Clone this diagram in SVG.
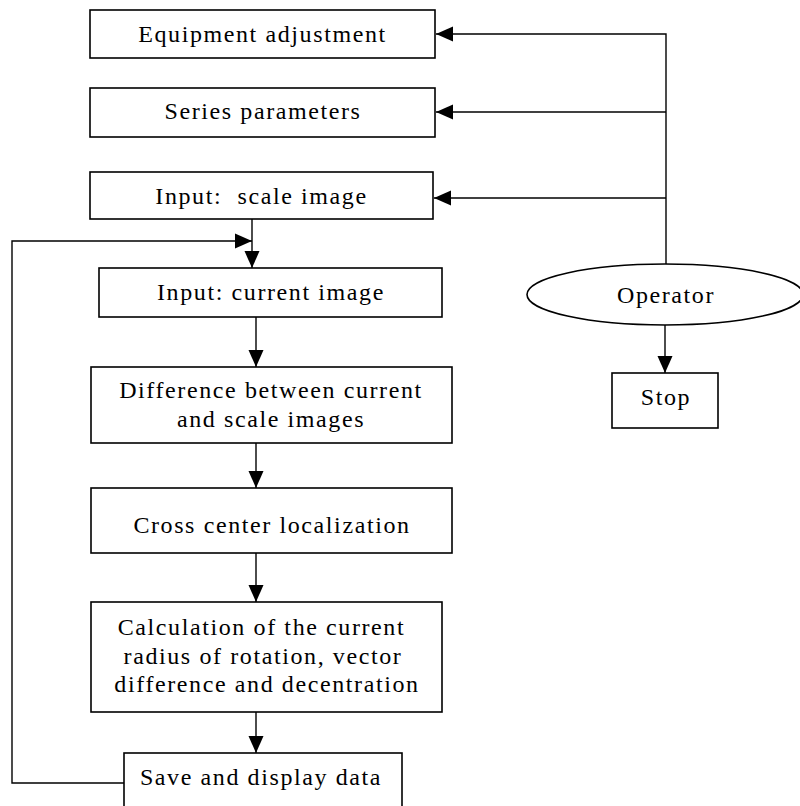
<svg xmlns="http://www.w3.org/2000/svg" width="800" height="806" viewBox="0 0 800 806">
<style>
.box{fill:#fff;stroke:#000;stroke-width:1.6}
.ln{fill:none;stroke:#000;stroke-width:1.4}
.t{font-family:'Liberation Serif','DejaVu Serif',serif;font-size:24px;letter-spacing:1.6px;text-anchor:middle;fill:#000}
</style>
<defs>
<marker id="ah" markerUnits="userSpaceOnUse" markerWidth="17" markerHeight="16" refX="17" refY="7.5" orient="auto" viewBox="0 0 17 15">
<path d="M0,0 L17,7.5 L0,15 z" fill="#000"/>
</marker>
</defs>
<rect width="800" height="806" fill="#fff"/>
<g id="connectors">
<path class="ln" d="M666,264 V34 H436" marker-end="url(#ah)"/>
<path class="ln" d="M666,112 H436" marker-end="url(#ah)"/>
<path class="ln" d="M666,198 H434" marker-end="url(#ah)"/>
<path class="ln" d="M665,325 V373" marker-end="url(#ah)"/>
<path class="ln" d="M252,219 V268" marker-end="url(#ah)"/>
<path class="ln" d="M124,783 H12 V241 H252" marker-end="url(#ah)"/>
<path class="ln" d="M256,317 V367" marker-end="url(#ah)"/>
<path class="ln" d="M256,443 V488" marker-end="url(#ah)"/>
<path class="ln" d="M256,553 V602" marker-end="url(#ah)"/>
<path class="ln" d="M256,712 V753" marker-end="url(#ah)"/>
</g>
<g id="n1"><rect class="box" x="90" y="10" width="345" height="48"/><text class="t" x="262.5" y="42">Equipment adjustment</text></g>
<g id="n2"><rect class="box" x="90" y="88" width="345" height="49"/><text class="t" x="263" y="119">Series parameters</text></g>
<g id="n3"><rect class="box" x="90" y="172" width="343" height="47"/><text class="t" x="261.5" y="204" xml:space="preserve">Input:  scale image</text></g>
<g id="n4"><rect class="box" x="99" y="268" width="343" height="49"/><text class="t" x="271" y="300">Input: current image</text></g>
<g id="n5"><rect class="box" x="91" y="367" width="361" height="76"/><text class="t" x="271" y="398">Difference between current</text><text class="t" x="271" y="427">and scale images</text></g>
<g id="n6"><rect class="box" x="91" y="488" width="361" height="65"/><text class="t" x="272" y="533">Cross center localization</text></g>
<g id="n7"><rect class="box" x="91" y="602" width="351" height="110"/><text class="t" x="261.5" y="635">Calculation of the current</text><text class="t" x="263" y="664">radius of rotation, vector</text><text class="t" x="267" y="692">difference and decentration</text></g>
<g id="n8"><rect class="box" x="124" y="753" width="278" height="70"/><text class="t" x="261" y="785">Save and display data</text></g>
<g id="op"><ellipse class="box" cx="665" cy="294.5" rx="138" ry="30.5"/><text class="t" x="666" y="303">Operator</text></g>
<g id="stop"><rect class="box" x="612" y="373" width="106" height="55"/><text class="t" x="666" y="405">Stop</text></g>
</svg>
